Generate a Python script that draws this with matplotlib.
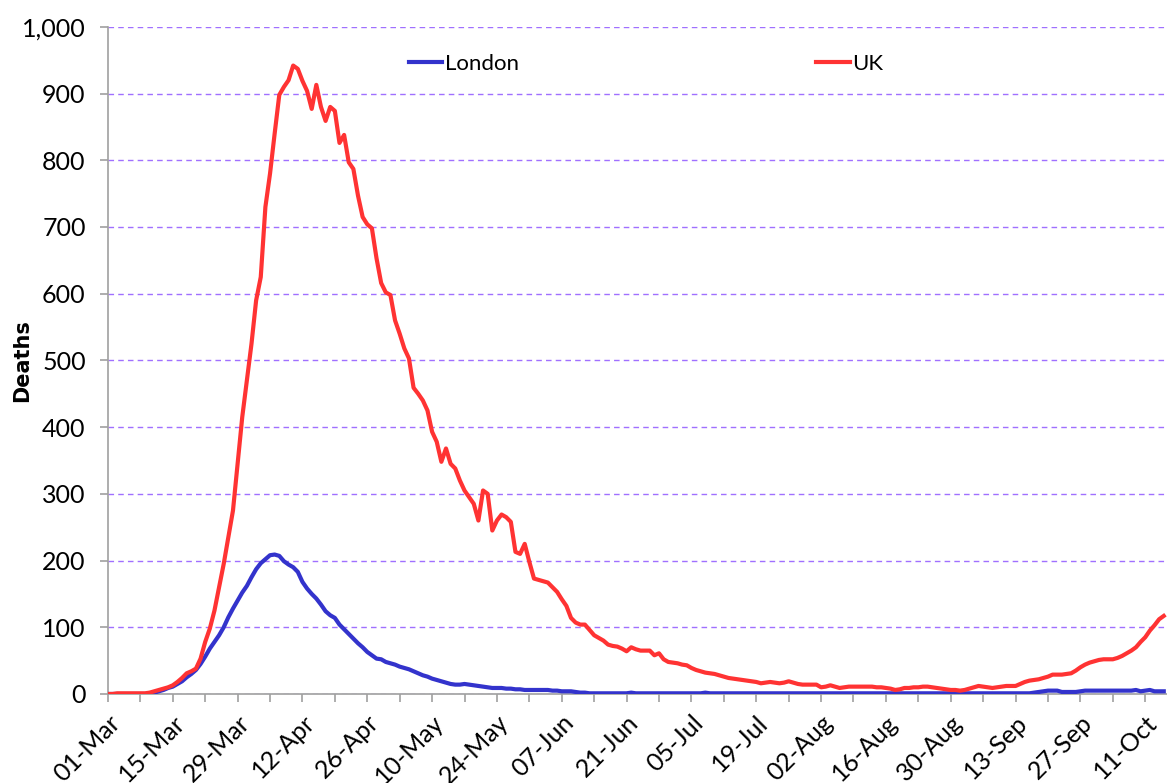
import matplotlib.pyplot as plt
import matplotlib.ticker as ticker
import numpy as np
import pandas as pd

# daily deaths, 01-Mar to 15-Oct (one value per day)
uk = [0, 0, 1, 1, 1, 1, 1, 1, 1, 2,
      4, 6, 8, 10, 13, 18, 24, 31, 34, 38,
      53, 78, 98, 125, 160, 195, 235, 275, 345, 415,
      470, 525, 590, 625, 730, 780, 840, 898, 910, 920,
      942, 937, 919, 904, 877, 913, 880, 859, 880, 874,
      826, 838, 797, 787, 747, 715, 704, 698, 653, 616,
      602, 598, 560, 540, 518, 503, 459, 450, 440, 425,
      393, 378, 348, 368, 345, 338, 320, 305, 295, 285,
      260, 305, 300, 245, 260, 269, 265, 258, 213, 210,
      225, 198, 173, 171, 169, 167, 160, 153, 142, 132,
      114, 107, 104, 104, 96, 88, 84, 80, 74, 72,
      71, 68, 64, 70, 67, 65, 65, 65, 58, 61,
      52, 48, 47, 46, 44, 43, 39, 36, 34, 32,
      31, 30, 28, 26, 24, 23, 22, 21, 20, 19,
      18, 16, 17, 18, 17, 16, 17, 19, 17, 15,
      14, 14, 14, 14, 10, 11, 13, 11, 9, 10,
      11, 11, 11, 11, 11, 11, 10, 10, 9, 8,
      6, 7, 9, 9, 10, 10, 11, 11, 10, 9,
      8, 7, 6, 6, 5, 6, 8, 10, 12, 11,
      10, 9, 10, 11, 12, 12, 12, 15, 18, 20,
      21, 22, 24, 26, 29, 29, 29, 30, 31, 35,
      40, 44, 47, 49, 51, 52, 52, 52, 54, 57,
      61, 65, 70, 78, 85, 95, 103, 112, 117]

london = [0, 0, 0, 0, 0, 0, 0, 0, 0, 0,
          2, 4, 6, 9, 11, 15, 19, 25, 30, 36,
          45, 56, 68, 78, 88, 100, 115, 128, 140, 152,
          162, 175, 187, 196, 202, 208, 209, 207, 199, 194,
          190, 183, 168, 158, 150, 143, 134, 124, 118, 114,
          104, 97, 90, 83, 76, 70, 63, 58, 53, 52,
          48, 46, 44, 41, 39, 37, 34, 31, 28, 26,
          23, 21, 19, 17, 15, 14, 14, 15, 14, 13,
          12, 11, 10, 9, 9, 9, 8, 8, 7, 7,
          6, 6, 6, 6, 6, 6, 5, 5, 4, 4,
          4, 3, 2, 2, 1, 1, 1, 1, 1, 1,
          1, 1, 1, 2, 1, 1, 1, 1, 1, 1,
          1, 1, 1, 1, 1, 1, 1, 1, 1, 2,
          1, 1, 1, 1, 1, 1, 1, 1, 1, 1,
          1, 1, 1, 1, 1, 1, 1, 1, 1, 1,
          1, 1, 1, 1, 1, 1, 1, 1, 1, 1,
          1, 1, 1, 1, 1, 1, 1, 1, 1, 1,
          1, 1, 1, 1, 1, 1, 1, 1, 1, 1,
          1, 1, 1, 1, 1, 1, 1, 1, 1, 1,
          1, 1, 1, 1, 1, 1, 1, 1, 1, 1,
          2, 3, 4, 5, 5, 5, 3, 3, 3, 3,
          4, 5, 5, 5, 5, 5, 5, 5, 5, 5,
          5, 5, 6, 4, 5, 6, 4, 4, 4]

dates = pd.date_range('2020-03-01', periods=len(uk), freq='D')
days = np.arange(len(uk))

plt.rcParams['font.family'] = ['Lato', 'DejaVu Sans']

fig = plt.figure(figsize=(11.67, 7.83), dpi=100)
ax = fig.add_axes([0.0925, 0.1137, 0.9075, 0.852])

ax.plot(days, london, color='#3333CC', lw=3, label='London', zorder=3)
ax.plot(days, uk, color='#FF3333', lw=3, label='UK', zorder=3)

ax.set_ylim(0, 1000)
ax.set_xlim(0, 228.7)
ax.yaxis.set_major_locator(ticker.MultipleLocator(100))
ax.yaxis.set_major_formatter(ticker.FuncFormatter(lambda v, p: '{:,.0f}'.format(v)))

tick_days = np.arange(0, 229, 7)
ax.set_xticks(tick_days)
labels = []
for i, d in enumerate(tick_days):
    labels.append(dates[d].strftime('%d-%b') if i % 2 == 0 else '')
ax.set_xticklabels(labels, rotation=45, ha='right', rotation_mode='anchor')

ax.grid(axis='y', color='#A070FF', linestyle=(0, (4, 3)), lw=1)
ax.set_axisbelow(True)
for s in ['top', 'right']:
    ax.spines[s].set_visible(False)
for s in ['left', 'bottom']:
    ax.spines[s].set_color('#A0A0A0')
    ax.spines[s].set_linewidth(1.2)
ax.tick_params(axis='both', colors='#A0A0A0', length=6, width=1.2,
               labelcolor='black', labelsize=18)
ax.tick_params(axis='y', pad=10)
ax.tick_params(axis='x', pad=6)

ax.set_ylabel('Deaths', fontsize=15, fontweight='bold', family='DejaVu Sans')
ax.yaxis.set_label_coords(-0.072, 0.5)

ax.legend(loc='upper center', bbox_to_anchor=(0.508, 0.99), ncol=2, frameon=False,
          fontsize=16, handlelength=1.5, handletextpad=0.1, columnspacing=13.4)

plt.savefig('out.png', dpi=100)
